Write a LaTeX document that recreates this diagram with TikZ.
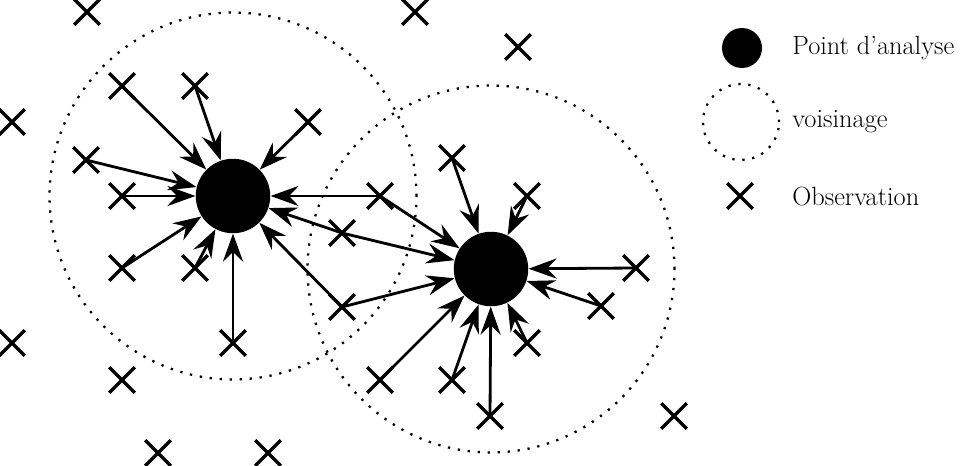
\documentclass[tikz,border=0pt]{standalone}
\usetikzlibrary{shapes.misc,arrows.meta}
\begin{document}
\begin{tikzpicture}[x=0.02cm,y=-0.02cm,
  obs/.style={cross out,draw,line width=2pt,minimum size=4.4mm,inner sep=0pt},
  pta/.style={circle,fill=black,inner sep=0pt,minimum size=14.9mm},
  voisin/.style={circle,draw,line width=1.3pt,dash pattern=on 1.3pt off 4.4pt,minimum size=73.4mm,inner sep=0pt},
  arr/.style={line width=1.6pt,-{Stealth[length=16pt,width=11.5pt,inset=5.5pt]}},
  lab/.style={anchor=west,inner sep=0pt,font=\fontsize{15}{17}\selectfont}]
\useasboundingbox (0,0) rectangle (967,466);
% neighbourhoods
\node[voisin] (VA) at (233,196) {};
\node[voisin] (VB) at (491,269) {};
% analysis points
\node[pta] (A) at (233,196) {};
\node[pta] (B) at (491,269) {};
% observations
\foreach \n/\x/\y in {1/87/12,2/415/12,3/518/47,4/12/122,5/122/86,6/195/86,7/308/122,
  8/86/160,9/122/196,10/380/196,11/342/233,12/122/268,13/195/268,14/233/343,15/342/307,
  16/12/343,17/122/380,18/158/453,19/268/453,20/452/158,21/527/196,22/636/268,23/601/306,
  24/527/343,25/380/380,26/452/380,27/490/416,28/674/416}
  \node[obs] (o\n) at (\x,\y) {};
% arrows to A
\foreach \n in {5,6,7,8,9,10,11,12,13,14,15}
  \draw[arr] (o\n.center) -- (A);
% arrows to B
\foreach \n in {10,11,15,20,21,22,23,24,25,26,27}
  \draw[arr] (o\n.center) -- (B);
% legend
\node[pta,minimum size=8mm] (LA) at (742,48) {};
\node[voisin,minimum size=15.2mm] (LV) at (741,122) {};
\node[obs] (LO) at (740,196) {};
\node[lab] (TA) at (792,48) {Point d'analyse};
\node[lab] (TV) at (792,122) {voisinage};
\node[lab] (TO) at (792,196) {Observation};
\end{tikzpicture}
\end{document}
